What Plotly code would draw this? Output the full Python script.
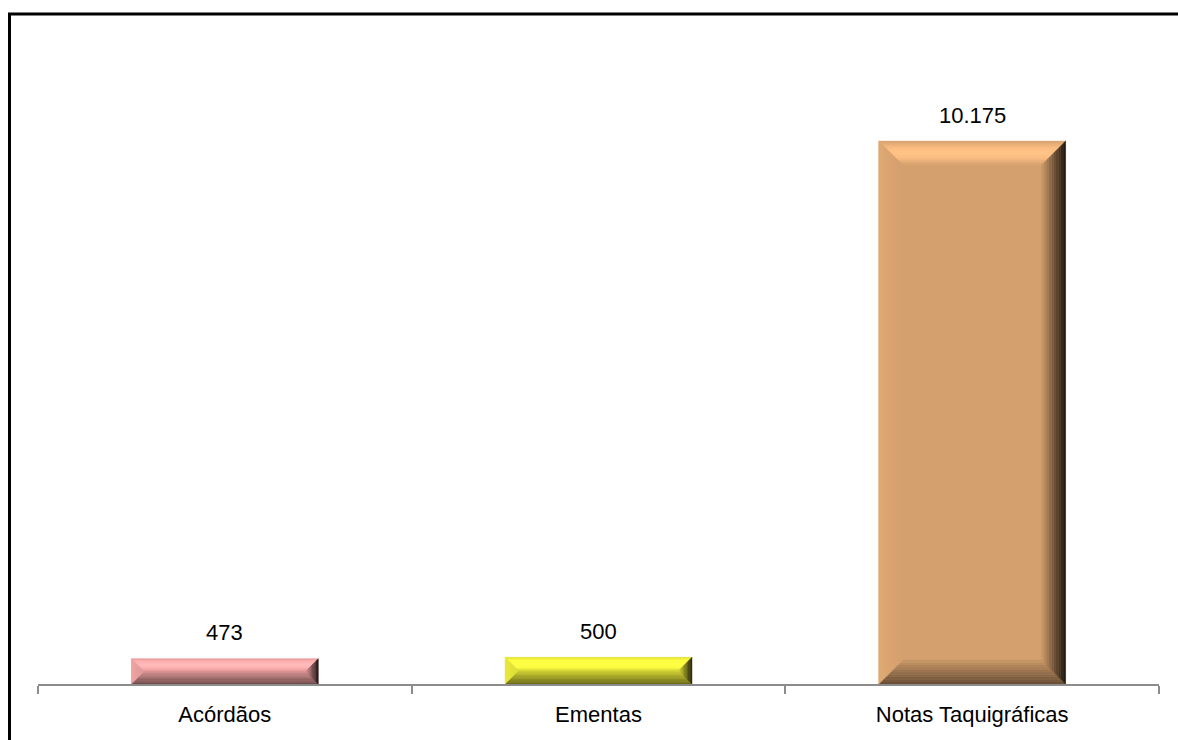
import math
import plotly.graph_objects as go

categories = ["Acórdãos", "Ementas", "Notas Taquigráficas"]
values = [473, 500, 10175]
bar_colors = ["#E29A9A", "#DCDC3A", "#D4A06E"]

W, H = 1178, 740
ML, MR, MT, MB = 38, 19, 40, 56
YMAX = 12070
BAR_FRAC = 0.5
plot_w = W - ML - MR
plot_h = H - MT - MB
px_x = plot_w / len(categories)
px_y = plot_h / YMAX


def hex_rgb(h):
    h = h.lstrip("#")
    return [int(h[i:i + 2], 16) for i in (0, 2, 4)]


def scale(h, f):
    r = [max(0, min(255, int(round(c * f)))) for c in hex_rgb(h)]
    return "rgb(%d,%d,%d)" % tuple(r)


fig = go.Figure()
fig.add_trace(go.Bar(
    x=categories, y=values,
    marker=dict(color=bar_colors, line=dict(width=0)),
    hoverinfo="skip",
))

shapes = []
N = 10
for i, (v, col) in enumerate(zip(values, bar_colors)):
    bar_px_h = v * px_y
    bar_px_w = BAR_FRAC * px_x
    bw = min(24.0, bar_px_h / 2.0, bar_px_w / 2.0)
    L, R, B, T = i - BAR_FRAC / 2, i + BAR_FRAC / 2, 0.0, float(v)
    for k in range(N):
        d0 = bw * k / N
        d1 = bw * (k + 1) / N
        t = (k + 0.5) / N
        ox0, oy0 = d0 / px_x, d0 / px_y
        ox1, oy1 = d1 / px_x, d1 / px_y
        sides = {
            "top": ([(L + ox0, T - oy0), (R - ox0, T - oy0), (R - ox1, T - oy1), (L + ox1, T - oy1)],
                    1.0 + 0.22 * math.sin(math.pi * t)),
            "bottom": ([(L + ox0, B + oy0), (R - ox0, B + oy0), (R - ox1, B + oy1), (L + ox1, B + oy1)],
                       0.48 + 0.47 * t),
            "left": ([(L + ox0, B + oy0), (L + ox0, T - oy0), (L + ox1, T - oy1), (L + ox1, B + oy1)],
                     1.06 - 0.06 * t),
            "right": ([(R - ox0, B + oy0), (R - ox0, T - oy0), (R - ox1, T - oy1), (R - ox1, B + oy1)],
                      0.12 + 0.85 * t),
        }
        for name, (pts, f) in sides.items():
            c = scale(col, f)
            path = "M " + " L ".join("%f,%f" % p for p in pts) + " Z"
            shapes.append(dict(type="path", path=path, xref="x", yref="y",
                               fillcolor=c, line=dict(color=c, width=0.5), layer="above"))

# outer chart frame
shapes.append(dict(type="rect", xref="paper", yref="paper",
                   x0=(9.5 - ML) / plot_w, x1=(W + 20 - ML) / plot_w,
                   y0=(MT + plot_h - (H + 20)) / plot_h, y1=(MT + plot_h - 14) / plot_h,
                   line=dict(color="black", width=3), fillcolor="rgba(0,0,0,0)", layer="above"))

annotations = []
for c, v in zip(categories, values):
    annotations.append(dict(x=c, y=v, text=f"{v:,}".replace(",", "."), showarrow=False,
                            yanchor="middle", yshift=26,
                            font=dict(size=22, color="black", family="Liberation Sans, Arial, sans-serif")))

fig.update_layout(
    width=W, height=H,
    margin=dict(l=ML, r=MR, t=MT, b=MB),
    paper_bgcolor="white", plot_bgcolor="white",
    showlegend=False, bargap=1 - BAR_FRAC,
    font=dict(family="Liberation Sans, Arial, sans-serif", size=22, color="black"),
    shapes=shapes, annotations=annotations,
    xaxis=dict(type="category", tickson="boundaries", ticks="outside", ticklen=8, tickwidth=2,
               tickcolor="#8c8c8c", showline=True, linecolor="#8c8c8c", linewidth=2,
               ticklabelstandoff=10,
               showgrid=False, zeroline=False, tickfont=dict(size=22, color="black")),
    yaxis=dict(visible=False, range=[0, YMAX], showgrid=False, zeroline=False),
)

fig.write_html("out.html")
